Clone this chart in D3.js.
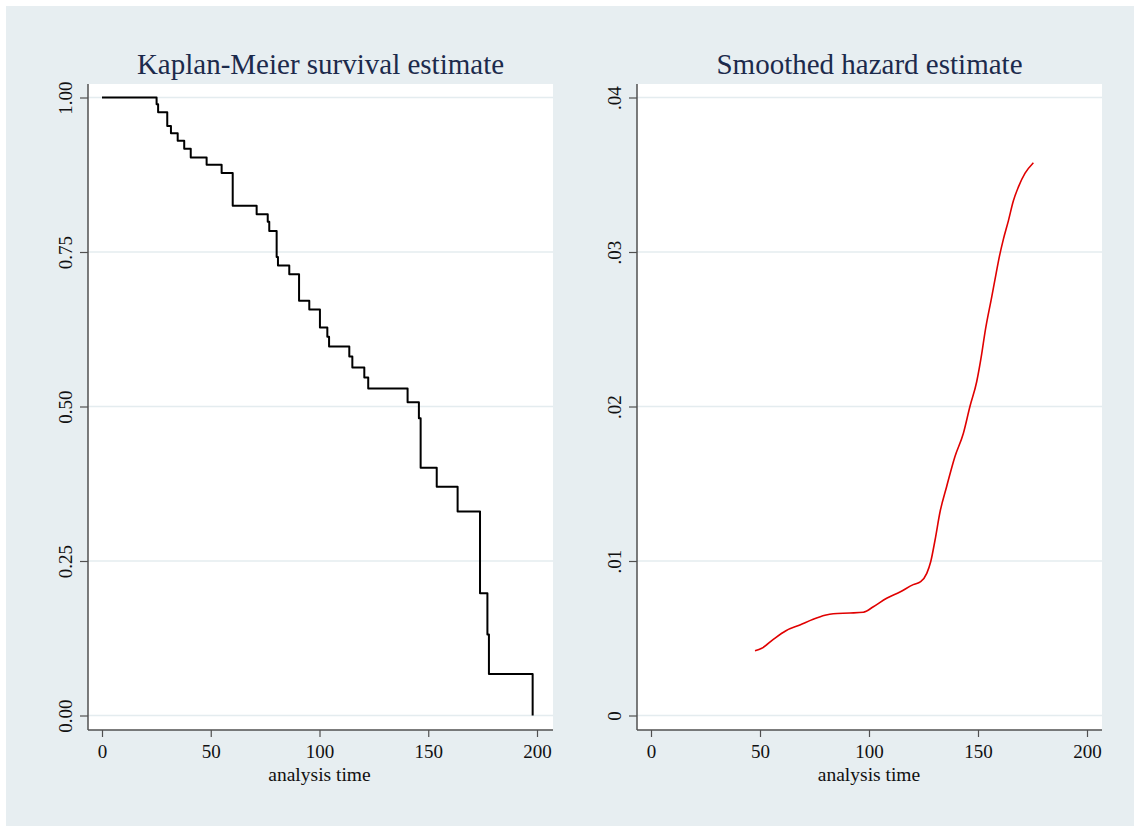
<!DOCTYPE html>
<html>
<head>
<meta charset="utf-8">
<script src="https://cdn.jsdelivr.net/npm/d3@7"></script>
<style>
  body { margin: 0; background: #ffffff; }
  svg text { font-family: "Liberation Serif", "Times New Roman", serif; }
</style>
</head>
<body>
<div id="chart"></div>
<script>
// Kaplan-Meier step points (time, survival)
var kmTime = [0, 25.1, 25.8, 30.0, 31.7, 34.8, 37.8, 40.8, 48.1, 55.0, 60.1, 71.1, 76.2, 76.9, 80.3, 80.9,
    86.1, 90.6, 95.3, 100.2, 103.6, 104.4, 113.7, 115.1, 120.6, 122.4, 140.5, 145.7, 146.5, 153.9,
    163.5, 173.8, 177.2, 177.9, 198.0];
var kmSurv = [1, 0.989, 0.976, 0.954, 0.942, 0.930, 0.917, 0.903, 0.891, 0.878, 0.825, 0.811, 0.799, 0.784,
    0.742, 0.728, 0.714, 0.671, 0.657, 0.628, 0.613, 0.597, 0.581, 0.563, 0.547, 0.529, 0.507, 0.481,
    0.401, 0.370, 0.330, 0.198, 0.131, 0.067, 0];

// Smoothed hazard (time, hazard)
var hazTime = [47.7, 50.8, 56.1, 61.9, 68.3, 74.4, 79.8, 83.6, 91.3, 97.4, 102.0, 108.1, 114.2, 120.3,
    123.7, 126.5, 128.3, 130.3, 132.6, 135.6, 139.4, 143.3, 146.3, 149.4, 151.7, 153.2, 156.3, 158.3,
    159.8, 161.6, 163.9, 166.2, 168.5, 171.6, 175.4];
var hazVal = [0.00419, 0.00435, 0.00493, 0.00549, 0.00586, 0.00623, 0.00649, 0.00659, 0.00663, 0.00668,
    0.00704, 0.00759, 0.00799, 0.00847, 0.00866, 0.0092, 0.00995, 0.01136, 0.01319, 0.01481, 0.01675,
    0.01827, 0.0200, 0.0216, 0.0234, 0.0248, 0.0271, 0.0286, 0.0297, 0.0308, 0.0320, 0.0333, 0.0342,
    0.0351, 0.03578];

// Axis ticks and labels
var xTicks = [0, 50, 100, 150, 200];
var kmYTicks = [0, 0.25, 0.5, 0.75, 1];
var kmYLabels = ["0.00", "0.25", "0.50", "0.75", "1.00"];
var hazYTicks = [0, 0.01, 0.02, 0.03, 0.04];
var hazYLabels = ["0", ".01", ".02", ".03", ".04"];

var width = 1134, height = 826;
var bg = "#e7eef1";
var gridColor = "#e4ecef";
var axisColor = "#505050";
var titleColor = "#1c2a4c";

var svg = d3.select("#chart").append("svg")
    .attr("width", width)
    .attr("height", height);

// Outer background
svg.append("rect")
    .attr("x", 6).attr("y", 6)
    .attr("width", width - 6).attr("height", height - 6)
    .attr("fill", bg);

// Plot region dimensions
var plotW = 465, plotH = 646;

function drawPanel(opts) {
    var g = svg.append("g")
        .attr("transform", "translate(" + opts.left + "," + opts.top + ")");

    var x = d3.scaleLinear().domain([0, 200]).range([14, 14 + opts.xSpan]);
    var y = d3.scaleLinear().domain(opts.yDomain).range([631.5, 13.5]);

    // White plot area
    g.append("rect")
        .attr("width", plotW).attr("height", plotH)
        .attr("fill", "#ffffff");

    // Gridlines
    g.selectAll(".grid")
        .data(opts.yTicks)
        .enter().append("line")
        .attr("class", "grid")
        .attr("x1", 0).attr("x2", plotW)
        .attr("y1", function (d) { return y(d); })
        .attr("y2", function (d) { return y(d); })
        .attr("stroke", gridColor)
        .attr("stroke-width", 1.5);

    // Data line
    g.append("path")
        .datum(opts.data)
        .attr("fill", "none")
        .attr("stroke", opts.color)
        .attr("stroke-width", opts.strokeWidth)
        .attr("stroke-linejoin", "round")
        .attr("d", d3.line()
            .x(function (d) { return x(d[0]); })
            .y(function (d) { return y(d[1]); })
            .curve(opts.curve));

    // X axis
    var xAxis = g.append("g")
        .attr("transform", "translate(0," + plotH + ")")
        .call(d3.axisBottom(x).tickValues(xTicks).tickSize(7).tickPadding(8).tickSizeOuter(0));
    xAxis.select(".domain").remove();
    xAxis.append("line")
        .attr("x1", 0).attr("x2", plotW)
        .attr("stroke", axisColor).attr("stroke-width", 1.5);
    xAxis.selectAll(".tick line").attr("stroke", axisColor).attr("stroke-width", 1.2);
    xAxis.selectAll("text")
        .attr("fill", "#111")
        .style("font-size", "19px");

    // Y axis
    var yAxis = g.append("g")
        .call(d3.axisLeft(y).tickValues(opts.yTicks).tickSize(8)
            .tickFormat(function (d, i) { return opts.yLabels[i]; }));
    yAxis.select(".domain").remove();
    yAxis.append("line")
        .attr("y1", 0).attr("y2", plotH)
        .attr("stroke", axisColor).attr("stroke-width", 1.5);
    yAxis.selectAll(".tick line").attr("stroke", axisColor).attr("stroke-width", 1.2);
    yAxis.selectAll("text")
        .attr("x", null).attr("dy", null)
        .attr("text-anchor", "middle")
        .attr("transform", "translate(-16,0) rotate(-90)")
        .attr("fill", "#111")
        .style("font-size", "19px");

    // Axis title
    g.append("text")
        .attr("x", x(100))
        .attr("y", plotH + 51)
        .attr("text-anchor", "middle")
        .attr("fill", "#111")
        .style("font-size", "19.5px")
        .text("analysis time");

    // Panel title
    g.append("text")
        .attr("x", plotW / 2)
        .attr("y", -10)
        .attr("text-anchor", "middle")
        .attr("fill", titleColor)
        .style("font-size", "29px")
        .text(opts.title);
}

drawPanel({
    left: 88, top: 84, xSpan: 435,
    yDomain: [0, 1], yTicks: kmYTicks, yLabels: kmYLabels,
    data: kmTime.map(function (t, i) { return [t, kmSurv[i]]; }),
    color: "#000000", strokeWidth: 2, curve: d3.curveStepAfter,
    title: "Kaplan-Meier survival estimate"
});

drawPanel({
    left: 637, top: 84, xSpan: 436,
    yDomain: [0, 0.04], yTicks: hazYTicks, yLabels: hazYLabels,
    data: hazTime.map(function (t, i) { return [t, hazVal[i]]; }),
    color: "#e00000", strokeWidth: 1.6, curve: d3.curveMonotoneX,
    title: "Smoothed hazard estimate"
});
</script>
</body>
</html>
